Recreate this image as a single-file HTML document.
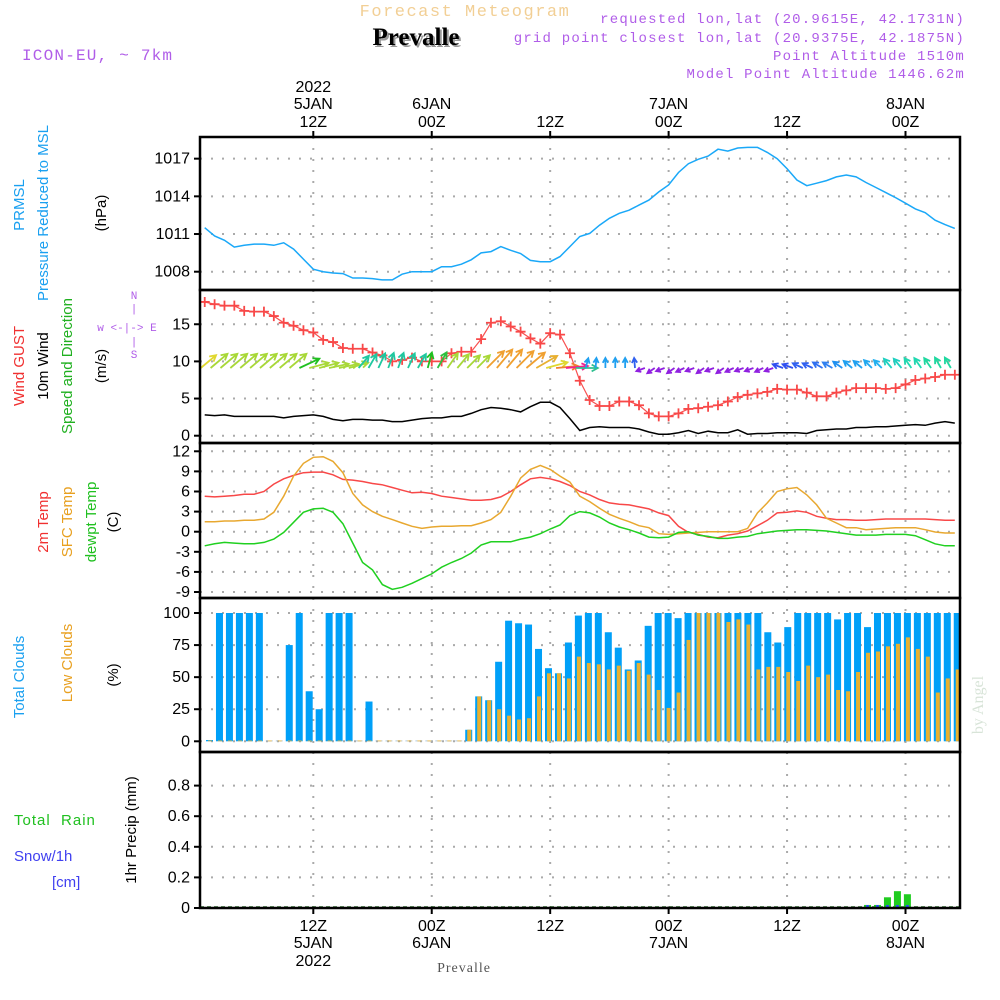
<!DOCTYPE html>
<html><head><meta charset="utf-8"><style>
html,body{margin:0;padding:0;background:#fff;}
svg{display:block;font-family:"Liberation Sans",sans-serif;}
.hd{font-family:"Liberation Mono",monospace;font-size:14px;letter-spacing:1.2px;fill:#b05de8;}
.ax{font-size:16px;fill:#000;}
.lab{font-size:15px;}
</style></head><body>
<svg id="chart" width="1000" height="1000" viewBox="0 0 1000 1000">
<text x="465" y="16" text-anchor="middle" style="font-family:'Liberation Mono',monospace;font-size:17px;letter-spacing:1.5px;fill:#f2cf95">Forecast Meteogram</text>
<text x="418" y="47" text-anchor="middle" style="font-family:'Liberation Serif',serif;font-size:25px;font-weight:bold;fill:#999">Prevalle</text>
<text x="416" y="45" text-anchor="middle" style="font-family:'Liberation Serif',serif;font-size:25px;font-weight:bold;fill:#000">Prevalle</text>
<text x="22" y="60" class="hd" style="font-size:16px">ICON-EU, ~ 7km</text>
<text x="965" y="23" text-anchor="end" class="hd">requested lon,lat (20.9615E, 42.1731N)</text>
<text x="965" y="42" text-anchor="end" class="hd">grid point closest lon,lat (20.9375E, 42.1875N)</text>
<text x="965" y="60" text-anchor="end" class="hd">Point Altitude 1510m</text>
<text x="965" y="78" text-anchor="end" class="hd">Model Point Altitude 1446.62m</text>

<g class="lab">
<text transform="translate(24,205) rotate(-90)" text-anchor="middle" fill="#1aa0f0">PRMSL</text>
<text transform="translate(48,213) rotate(-90)" text-anchor="middle" fill="#1aa0f0">Pressure Reduced to MSL</text>
<text transform="translate(106,213) rotate(-90)" text-anchor="middle" fill="#000">(hPa)</text>
<text transform="translate(24,366) rotate(-90)" text-anchor="middle" fill="#f03030">Wind GUST</text>
<text transform="translate(48,366) rotate(-90)" text-anchor="middle" fill="#000">10m Wind</text>
<text transform="translate(72,366) rotate(-90)" text-anchor="middle" fill="#20b020">Speed and Direction</text>
<text transform="translate(106,366) rotate(-90)" text-anchor="middle" fill="#000">(m/s)</text>
<g fill="#b05de8" style="font-size:11px;font-family:'Liberation Mono',monospace">
<text x="134" y="299" text-anchor="middle">N</text>
<text x="134" y="312" text-anchor="middle">|</text>
<text x="127" y="331" text-anchor="middle">w &lt;-|-&gt; E</text>
<text x="134" y="345" text-anchor="middle">|</text>
<text x="134" y="358" text-anchor="middle">S</text>
</g>
<text transform="translate(48,522) rotate(-90)" text-anchor="middle" fill="#f03030">2m Temp</text>
<text transform="translate(72,522) rotate(-90)" text-anchor="middle" fill="#e8a020">SFC Temp</text>
<text transform="translate(96,522) rotate(-90)" text-anchor="middle" fill="#20c020">dewpt Temp</text>
<text transform="translate(118,522) rotate(-90)" text-anchor="middle" fill="#000">(C)</text>
<text transform="translate(24,677) rotate(-90)" text-anchor="middle" fill="#1aa0f0">Total Clouds</text>
<text transform="translate(72,663) rotate(-90)" text-anchor="middle" fill="#e8a020">Low Clouds</text>
<text transform="translate(118,675) rotate(-90)" text-anchor="middle" fill="#000">(%)</text>
<text x="14" y="825" fill="#20c020" style="letter-spacing:1px">Total &#160;Rain</text>
<text x="14" y="861" fill="#4040f0">Snow/1h</text>
<text x="52" y="887" fill="#4040f0">[cm]</text>
<text transform="translate(136,830) rotate(-90)" text-anchor="middle" fill="#000">1hr Precip (mm)</text>
</g>
<text transform="translate(983,705) rotate(-90)" text-anchor="middle" style="font-family:'Liberation Serif',serif;font-size:16px;fill:#d8e4d8">by Angel</text>
<text x="464" y="972" text-anchor="middle" style="font-family:'Liberation Serif',serif;font-size:14px;fill:#555;letter-spacing:1px">Prevalle</text>
<g id="grid"></g>
<g id="marks"></g>
<g id="frame"></g>
</svg>
<script>
const hours = [];
for (let h = 1; h <= 77; h++) hours.push(h);
const pressure = [1011.5,1010.84,1010.5,1009.96,1010.1,1010.2,1010.2,1010.1,1010.3,1009.8,1009.0,1008.2,1008.0,1007.9,1007.85,1007.5,1007.5,1007.45,1007.35,1007.35,1007.8,1008.0,1008.0,1008.0,1008.4,1008.4,1008.6,1008.95,1009.5,1009.6,1010.0,1009.7,1009.45,1008.9,1008.8,1008.8,1009.2,1010.0,1010.8,1011.05,1011.7,1012.25,1012.65,1012.9,1013.3,1013.7,1014.35,1014.9,1015.9,1016.6,1016.95,1017.2,1017.75,1017.6,1017.85,1017.9,1017.9,1017.5,1017.0,1016.2,1015.3,1014.85,1015.05,1015.25,1015.55,1015.7,1015.55,1015.1,1014.7,1014.3,1013.9,1013.45,1013.0,1012.7,1012.1,1011.75,1011.45];
const gust = [18.0,17.7,17.5,17.5,16.8,16.7,16.7,16.1,15.2,14.8,14.2,13.9,12.9,12.6,11.8,11.7,11.7,11.2,10.8,10.0,10.2,10.5,10.0,10.0,10.0,11.1,11.3,11.3,13.0,15.2,15.4,14.7,14.0,13.1,12.4,13.8,13.6,11.1,7.4,4.8,4.0,4.0,4.6,4.6,4.1,3.0,2.6,2.6,3.0,3.6,3.7,3.9,4.1,4.6,5.2,5.5,5.7,5.9,6.3,6.2,6.2,5.8,5.3,5.3,5.8,6.1,6.4,6.4,6.4,6.3,6.4,6.9,7.5,7.7,7.9,8.2,8.2];
const wind10 = [2.8,2.7,2.8,2.6,2.6,2.6,2.6,2.6,2.4,2.6,2.7,2.8,2.6,2.2,2.0,2.2,2.2,2.1,2.1,1.9,1.9,2.1,2.3,2.4,2.4,2.6,2.6,3.0,3.5,3.8,3.7,3.5,3.2,3.9,4.5,4.5,3.8,2.3,0.7,1.1,1.2,1.1,1.1,1.1,0.9,0.5,0.2,0.2,0.4,0.7,0.3,0.6,0.4,0.4,0.8,0.2,0.3,0.3,0.4,0.4,0.4,0.3,0.7,0.8,0.9,0.9,1.1,1.1,1.2,1.2,1.3,1.4,1.5,1.4,1.7,1.9,1.7];
const windDir = [40,40,40,40,40,40,40,40,40,40,25,15,15,12,12,15,50,60,65,70,70,65,60,75,60,55,50,45,45,45,50,50,45,40,30,15,5,5,0,75,85,90,90,90,95,200,215,200,215,205,200,215,200,215,205,200,200,205,200,160,160,155,155,150,150,145,140,140,135,135,130,130,125,125,125,120,120];
const windLen = [20,22,22,22,22,22,22,22,22,22,22,20,20,20,20,20,16,16,16,16,16,16,16,16,18,18,18,18,18,24,24,24,24,24,24,22,22,22,22,10,10,10,10,10,10,9,9,9,9,9,9,9,9,9,9,9,9,9,9,11,11,11,11,11,11,11,11,11,11,11,12,12,12,12,12,12,12];
const windColor = ["#e0d830","#a8d838","#a8d838","#a8d838","#a8d838","#a8d838","#a8d838","#a8d838","#a8d838","#a8d838","#20c020","#a8d838","#a8d838","#a8d838","#a8d838","#a8d838","#20c8a0","#20c8a0","#20c8a0","#20c8a0","#20c8a0","#20c8a0","#20c8a0","#20c020","#30c040","#a8d838","#a8d838","#a8d838","#a8d838","#f0a030","#f0a030","#f0a030","#f0a030","#f0a030","#e8b030","#e0d830","#f08030","#f02090","#30c090","#20a0f0","#20a0f0","#20a0f0","#20a0f0","#20a0f0","#3060f0","#9020e0","#9020e0","#9020e0","#9020e0","#9020e0","#9020e0","#9020e0","#9020e0","#9020e0","#9020e0","#9020e0","#9020e0","#9020e0","#9020e0","#3050f0","#3050f0","#3060f0","#3060f0","#3070f0","#3080f0","#2090f0","#20a0f0","#20a0f0","#20a8f0","#20b0f0","#20d0c0","#20d0c0","#20d8b0","#20d8b0","#20d8a0","#20d8a0","#20d8a0"];
const temp2m = [5.3,5.2,5.3,5.4,5.6,5.6,6.0,7.1,7.9,8.4,8.8,8.9,8.9,8.5,7.8,7.7,7.5,7.2,7.0,6.6,6.2,5.8,5.9,5.7,5.3,5.1,4.9,4.7,4.7,4.8,5.2,6.0,7.0,7.9,8.1,7.9,7.5,6.9,6.0,5.5,4.8,4.3,4.1,4.0,3.7,3.4,2.8,2.4,0.8,-0.1,-0.4,-0.8,-0.9,-0.5,-0.3,0.1,0.9,1.7,2.8,2.9,3.1,2.9,2.3,2.0,1.8,1.8,1.7,1.7,1.8,1.9,1.9,1.9,1.9,1.9,1.8,1.7,1.7];
const tempSfc = [1.5,1.5,1.6,1.6,1.7,1.7,1.9,2.9,5.3,8.3,10.2,11.1,11.2,10.5,8.8,5.7,4.0,3.0,2.3,1.8,1.3,0.8,0.5,0.7,0.8,0.8,0.9,0.9,1.3,1.8,2.9,5.3,8.0,9.3,9.9,9.3,8.3,7.4,5.3,4.5,3.5,2.6,2.0,1.5,0.9,0.6,-0.3,-0.4,-0.3,-0.2,-0.1,0,0,0,0,0.5,2.8,4.3,6.0,6.4,6.6,5.5,4.0,2.0,1.3,0.6,0.6,0.3,0.4,0.5,0.6,0.6,0.6,0.3,-0.05,-0.2,-0.2];
const dewpoint = [-2.1,-1.8,-1.6,-1.7,-1.8,-1.8,-1.6,-1.1,-0.1,1.4,2.9,3.4,3.5,2.9,1.2,-1.7,-4.6,-5.7,-7.9,-8.6,-8.3,-7.7,-7.0,-6.3,-5.3,-4.6,-4.0,-3.2,-2.0,-1.5,-1.5,-1.5,-1.1,-0.8,-0.3,0.4,1.0,2.4,3.0,2.8,2.2,1.3,0.7,0.3,-0.2,-0.8,-0.9,-0.8,-0.1,0,-0.5,-0.7,-1.0,-1.0,-0.8,-0.7,-0.3,-0.1,0.1,0.2,0.3,0.3,0.2,0.1,-0.1,-0.3,-0.5,-0.5,-0.5,-0.4,-0.4,-0.4,-0.6,-1.2,-1.8,-2.1,-2.1];
const totalClouds = [1,100,100,100,100,100,0,0,75,100,39,25,100,100,100,0,31,0,0,0,0,0,0,0,0,0,9,35,32,62,94,92,91,72,57,53,77,98,100,100,85,73,56,63,90,100,100,96,100,100,100,100,100,100,100,100,85,77,89,100,100,100,100,95,100,100,89,100,100,100,100,100,100,100,100,100];
const lowClouds = [0,0,0,0,0,0,0,0,0,0,0,0,0,0,0,0,0,0,0,0,0,0,0,0,0,0,9,35,32,25,20,17,18,35,53,53,49,66,61,60,56,59,55,61,52,40,26,38,79,100,100,100,93,95,91,56,58,58,54,47,59,50,52,40,39,54,69,70,74,76,81,72,66,38,49,56];
const rainHours = [67,68,69,70,71];
const rainValues = [0.02,0.02,0.07,0.11,0.09];
const yTicksP = [1008,1011,1014,1017];
const yTicksW = [0,5,10,15];
const yTicksT = [12,9,6,3,0,-3,-6,-9];
const yTicksC = [0,25,50,75,100];
const yTicksR = [0,0.2,0.4,0.6,0.8];
const tickLabelsR = ["0","0.2","0.4","0.6","0.8"];
const timeTicks = [12,24,36,48,60,72];
const topLabels = [["2022","5JAN","12Z"],["","6JAN","00Z"],["","","12Z"],["","7JAN","00Z"],["","","12Z"],["","8JAN","00Z"]];
const bottomLabels = [["12Z","5JAN","2022"],["00Z","6JAN",""],["12Z","",""],["00Z","7JAN",""],["12Z","",""],["00Z","8JAN",""]];

const NS = "http://www.w3.org/2000/svg";
const X0 = 200, X1 = 960;
function gx(t){ return 313.3 + (t - 12) * 9.87; }
function bx(h){ return 206 + (h - 1) * 9.97; }
function yP(v){ return 271.7 - (v - 1008) * 12.56; }
function yW(v){ return 435.7 - v * 7.43; }
function yT(v){ return 531.7 - v * 6.7; }
function yC(v){ return 741.3 - v * 1.283; }
function yR(v){ return 908 - v * 153; }
const panels = [
 {top:137,bot:290,ticks:yTicksP,fn:yP,lbl:yTicksP.map(String),name:'pressure'},
 {top:290,bot:443,ticks:yTicksW,fn:yW,lbl:yTicksW.map(String),name:'wind'},
 {top:443,bot:598,ticks:yTicksT,fn:yT,lbl:yTicksT.map(String),name:'temperature'},
 {top:598,bot:752,ticks:yTicksC,fn:yC,lbl:yTicksC.map(String),name:'clouds'},
 {top:752,bot:908,ticks:yTicksR,fn:yR,lbl:tickLabelsR,name:'precip'}
];
function mk(tag, attrs, parent){
 const e = document.createElementNS(NS, tag);
 for (const k in attrs) e.setAttribute(k, attrs[k]);
 parent.appendChild(e);
 return e;
}
const grid = document.getElementById('grid');
const marks = document.getElementById('marks');
const frame = document.getElementById('frame');

panels.forEach(p => {
 p.ticks.forEach((v, i) => {
  const y = p.fn(v);
  const gl = mk('line', {x1:X0, x2:X1, y1:y, y2:y, stroke:'#aaa', 'stroke-width':2, 'stroke-dasharray':'2 9'}, grid);
  
  
  const tk = mk('line', {x1:X0-6, x2:X0, y1:y, y2:y, stroke:'#000', 'stroke-width':2}, frame);
  
  
  const tx = mk('text', {x:X0-10, y:y+5, 'text-anchor':'end', class:'ax'}, frame);
  tx.textContent = p.lbl[i];
  
  
 });
 timeTicks.forEach(t => {
  const vl = mk('line', {x1:gx(t), x2:gx(t), y1:p.top, y2:p.bot, stroke:'#aaa', 'stroke-width':2, 'stroke-dasharray':'2 9'}, grid);
  
  
 });
 const r = mk('rect', {x:X0, y:p.top, width:X1-X0, height:p.bot-p.top, fill:'none', stroke:'#000', 'stroke-width':2.5}, frame);
 
 
});

timeTicks.forEach((t, i) => {
 const x = gx(t);
 const tt = mk('line', {x1:x, x2:x, y1:131, y2:137, stroke:'#000', 'stroke-width':2}, frame);
 
 
 const bt = mk('line', {x1:x, x2:x, y1:908, y2:914, stroke:'#000', 'stroke-width':2}, frame);
 
 
 [92,109,127].forEach((y, j) => {
  if (!topLabels[i][j]) return;
  const e = mk('text', {x:x, y:y, 'text-anchor':'middle', class:'ax'}, frame);
  e.textContent = topLabels[i][j];
  
  
 });
 [931,948,966].forEach((y, j) => {
  if (!bottomLabels[i][j]) return;
  const e = mk('text', {x:x, y:y, 'text-anchor':'middle', class:'ax'}, frame);
  e.textContent = bottomLabels[i][j];
  
  
 });
});

function line(vals, fn, color, name, w){
 const pts = vals.map((v, i) => gx(hours[i]).toFixed(1) + ',' + fn(v).toFixed(1)).join(' ');
 const pl = mk('polyline', {points:pts, fill:'none', stroke:color, 'stroke-width':w || 1.5}, marks);
 
 
}
line(pressure, yP, '#1aa8f8', 'pressure-line');
line(wind10, yW, '#000', 'wind-10m-line');
line(gust, yW, '#f85050', 'wind-gust-line', 1.2);
gust.forEach((v, i) => {
 const x = gx(hours[i]), y = yW(v);
 const g = mk('path', {d:`M${x-5},${y}H${x+5}M${x},${y-5}V${y+5}`, stroke:'#f84848', 'stroke-width':1.8}, marks);
 
 
});
windDir.forEach((d, i) => {
 const x = gx(hours[i]) - 4, y = 368;
 const a = d * Math.PI / 180, L = windLen[i];
 const ex = x + L * Math.cos(a), ey = y - L * Math.sin(a);
 const h1 = a + Math.PI - 0.5, h2 = a + Math.PI + 0.5, hl = Math.min(7, L * 0.55);
 const p = mk('path', {d:`M${x},${y}L${ex},${ey}M${ex + hl*Math.cos(h1)},${ey - hl*Math.sin(h1)}L${ex},${ey}L${ex + hl*Math.cos(h2)},${ey - hl*Math.sin(h2)}`, fill:'none', stroke:windColor[i], 'stroke-width':1.8}, marks);
 
 
});
line(temp2m, yT, '#f84848', 'temp-2m-line');
line(tempSfc, yT, '#e8a830', 'temp-sfc-line');
line(dewpoint, yT, '#20d020', 'dewpoint-line');

totalClouds.forEach((v, i) => {
 const h = i + 1, x = bx(h), y0 = yC(0), y = yC(Math.max(v, 0.6));
 const b = mk('rect', {x:x, y:y, width:7, height:y0 - y, fill: v > 0 ? '#00a0f8' : '#9ab8d0'}, marks);
 
 
 const lv = lowClouds[i];
 const ly = yC(Math.max(lv, 0.6));
 const lb = mk('rect', {x:x + 2, y:ly, width:4, height:y0 - ly, fill:'#e8b030'}, marks);
 
 
});
const base = mk('line', {x1:X0, x2:X1, y1:907, y2:907, stroke:'#226622', 'stroke-width':1.5, 'stroke-dasharray':'4 3'}, marks);


rainValues.forEach((v, i) => {
 const x = bx(rainHours[i]), y = yR(v);
 const b = mk('rect', {x:x, y:y, width:7, height:908 - y, fill:'#20cc20'}, marks);
 
 
 const s = mk('rect', {x:x + 2, y:905, width:3, height:3, fill:'#3050f0'}, marks);
 
 
});
</script>
</body></html>
